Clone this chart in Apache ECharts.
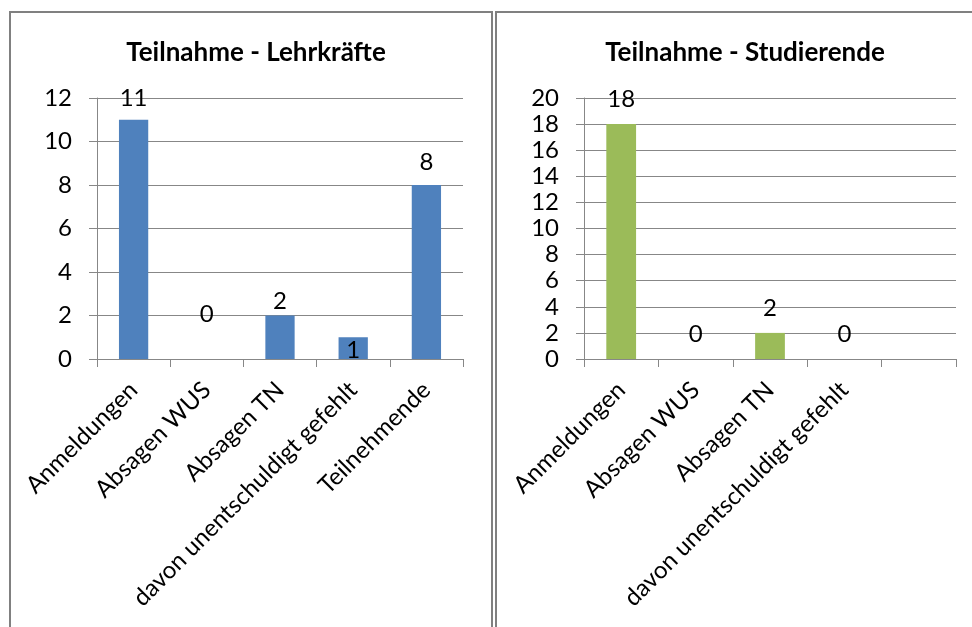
<!DOCTYPE html>
<html>
<head>
<meta charset="utf-8">
<title>Teilnahme</title>
<script src="https://cdn.jsdelivr.net/npm/echarts@6/dist/echarts.min.js"></script>
<style>
  html, body { margin: 0; padding: 0; background: #ffffff; }
  #chart { width: 972px; height: 627px; }
</style>
</head>
<body>
<div id="chart"></div>
<script>
// Participation counts, teachers and students
const categoriesLehr = ['Anmeldungen', 'Absagen WUS', 'Absagen TN', 'davon unentschuldigt gefehlt', 'Teilnehmende'];
const valuesLehr = [11, 0, 2, 1, 8];

const categoriesStud = ['Anmeldungen', 'Absagen WUS', 'Absagen TN', 'davon unentschuldigt gefehlt', ''];
const valuesStud = [18, 0, 2, 0, null];

const yTicksLehr = { min: 0, max: 12, interval: 2 };
const yTicksStud = { min: 0, max: 20, interval: 2 };

const titleLehr = 'Teilnahme - Lehrkräfte';
const titleStud = 'Teilnahme - Studierende';

// Label lift above each bar top (pixels); hand-placed labels in the left chart
const liftLehr = [9, 33, 2, -25, 11];
const liftStud = [13, 13, 13, 13, 13];

const FONT = 'Lato, "Open Sans", sans-serif';
const GRID_GRAY = '#878787';
const LABEL_SIZE = 24;

function barData(values, lifts) {
  return values.map((v, i) => ({
    value: v,
    label: { offset: [0, -lifts[i]] }
  }));
}

function xAxisFor(gridIndex, cats) {
  return {
    type: 'category',
    gridIndex: gridIndex,
    data: cats,
    boundaryGap: true,
    axisLine: { show: true, lineStyle: { color: GRID_GRAY, width: 1 } },
    axisTick: { show: true, length: 8, alignWithLabel: false, lineStyle: { color: GRID_GRAY } },
    axisLabel: {
      interval: 0, rotate: 45, margin: 27,
      fontFamily: FONT, fontSize: LABEL_SIZE, color: '#000'
    }
  };
}

function yAxisFor(gridIndex, t) {
  return {
    type: 'value',
    gridIndex: gridIndex,
    min: t.min, max: t.max, interval: t.interval,
    axisLine: { show: true, lineStyle: { color: GRID_GRAY, width: 1 } },
    axisTick: { show: true, length: 8, lineStyle: { color: GRID_GRAY } },
    axisLabel: { margin: 25, fontFamily: FONT, fontSize: LABEL_SIZE, color: '#000' },
    splitLine: { show: true, lineStyle: { color: GRID_GRAY, width: 1 } }
  };
}

function barSeries(idx, values, lifts, color) {
  return {
    type: 'bar',
    xAxisIndex: idx, yAxisIndex: idx,
    data: barData(values, lifts),
    barWidth: '40%',
    itemStyle: { color: color },
    label: {
      show: true, position: 'top', distance: 0,
      fontFamily: FONT, fontSize: LABEL_SIZE, lineHeight: 24, color: '#000',
      formatter: p => (p.value == null ? '' : String(p.value))
    }
  };
}

const chart = echarts.init(document.getElementById('chart'), null, { renderer: 'canvas' });

chart.setOption({
  backgroundColor: '#ffffff',
  animation: false,
  title: [
    { text: titleLehr, left: 251, top: 35, textAlign: 'center',
      textStyle: { fontFamily: FONT, fontSize: 26, fontWeight: 'bold', color: '#000' } },
    { text: titleStud, left: 740, top: 35, textAlign: 'center',
      textStyle: { fontFamily: FONT, fontSize: 26, fontWeight: 'bold', color: '#000' } }
  ],
  graphic: [
    { type: 'rect', shape: { x: 10, y: 12, width: 482, height: 640 },
      style: { fill: 'none', stroke: '#808080', lineWidth: 2 }, silent: true },
    { type: 'rect', shape: { x: 496, y: 12, width: 500, height: 640 },
      style: { fill: 'none', stroke: '#808080', lineWidth: 2 }, silent: true }
  ],
  grid: [
    { left: 97, top: 98, width: 366, height: 261 },
    { left: 584, top: 98, width: 372, height: 261 }
  ],
  xAxis: [xAxisFor(0, categoriesLehr), xAxisFor(1, categoriesStud)],
  yAxis: [yAxisFor(0, yTicksLehr), yAxisFor(1, yTicksStud)],
  series: [
    barSeries(0, valuesLehr, liftLehr, '#4F81BD'),
    barSeries(1, valuesStud, liftStud, '#9BBB59')
  ]
});
</script>
</body>
</html>
